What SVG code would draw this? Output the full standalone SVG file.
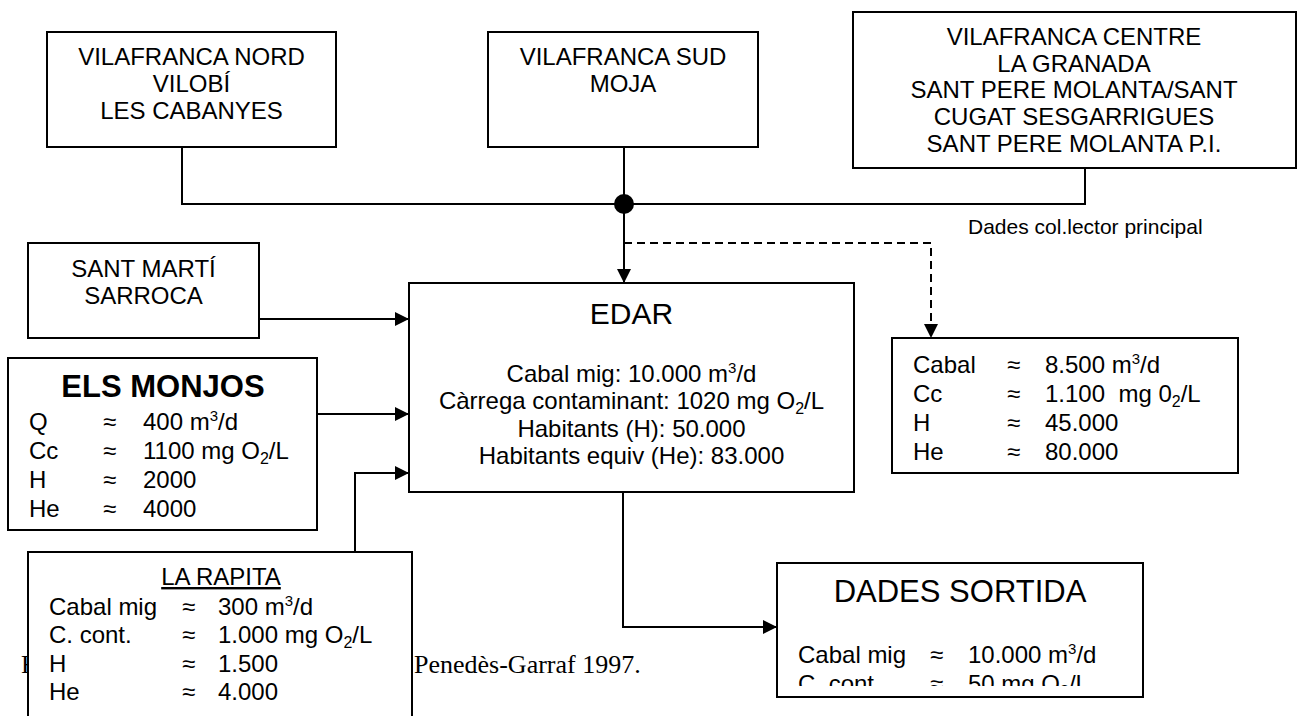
<svg xmlns="http://www.w3.org/2000/svg" width="1299" height="716" viewBox="0 0 1299 716">
<style>
.box{fill:#fff;stroke:#000;stroke-width:2}
.ln{fill:none;stroke:#000;stroke-width:2}
.dash{fill:none;stroke:#000;stroke-width:2;stroke-dasharray:8 5}
text{font-family:"Liberation Sans",Arial,sans-serif;fill:#000}
.t24{font-size:24px}
.c{text-anchor:middle}
.ser{font-family:"Liberation Serif","Times New Roman",serif;font-size:26px}
</style>
<defs>
<marker id="arr" markerUnits="userSpaceOnUse" markerWidth="14" markerHeight="14" refX="14" refY="7" orient="auto">
<path d="M0,0 L14,7 L0,14 z" fill="#000"/>
</marker>
<clipPath id="clipOut"><rect x="777" y="563" width="366" height="123"/></clipPath>
</defs>
<rect width="1299" height="716" fill="#fff"/>

<g id="caption">
<text class="ser" x="21" y="673">F</text>
<text class="ser" x="414" y="673">Penedès-Garraf 1997.</text>
</g>

<g id="connectors">
<polyline class="ln" points="182,147 182,204 1085,204 1085,168"/>
<line class="ln" x1="624" y1="147" x2="624" y2="204"/>
<circle cx="624" cy="204" r="10" fill="#000"/>
<line class="ln" x1="624" y1="204" x2="624" y2="283" marker-end="url(#arr)"/>
<polyline class="dash" points="624,243 931,243 931,338" marker-end="url(#arr)"/>
<line class="ln" x1="259" y1="319" x2="409" y2="319" marker-end="url(#arr)"/>
<line class="ln" x1="317" y1="414" x2="409" y2="414" marker-end="url(#arr)"/>
<polyline class="ln" points="355,552 355,473 409,473" marker-end="url(#arr)"/>
<polyline class="ln" points="623,492 623,627 777,627" marker-end="url(#arr)"/>
</g>

<g id="vilafranca-nord">
<rect class="box" x="47" y="32" width="289" height="115"/>
<text class="t24 c" x="191.5" y="65">VILAFRANCA NORD</text>
<text class="t24 c" x="191.5" y="92">VILOBÍ</text>
<text class="t24 c" x="191.5" y="119">LES CABANYES</text>
</g>

<g id="vilafranca-sud">
<rect class="box" x="488" y="32" width="270" height="115"/>
<text class="t24 c" x="623" y="65">VILAFRANCA SUD</text>
<text class="t24 c" x="623" y="92">MOJA</text>
</g>

<g id="vilafranca-centre">
<rect class="box" x="853" y="12" width="443" height="156"/>
<text class="t24 c" x="1074" y="45">VILAFRANCA CENTRE</text>
<text class="t24 c" x="1074" y="72">LA GRANADA</text>
<text class="t24 c" x="1074" y="98">SANT PERE MOLANTA/SANT</text>
<text class="t24 c" x="1074" y="125">CUGAT SESGARRIGUES</text>
<text class="t24 c" x="1074" y="152">SANT PERE MOLANTA P.I.</text>
</g>

<g id="label-collector">
<text x="968" y="234" font-size="21">Dades col.lector principal</text>
</g>

<g id="sant-marti">
<rect class="box" x="28" y="243" width="231" height="95"/>
<text class="t24 c" x="143.5" y="277">SANT MARTÍ</text>
<text class="t24 c" x="143.5" y="304">SARROCA</text>
</g>

<g id="edar">
<rect class="box" x="409" y="283" width="445" height="209"/>
<text class="c" x="631.5" y="324" font-size="30">EDAR</text>
<text class="t24 c" x="631.5" y="382">Cabal mig: 10.000 m<tspan font-size="15" dy="-9">3</tspan><tspan dy="9">/d</tspan></text>
<text class="t24 c" x="631.5" y="409">Càrrega contaminant: 1020 mg O<tspan font-size="16" dy="5">2</tspan><tspan dy="-5">/L</tspan></text>
<text class="t24 c" x="631.5" y="437">Habitants (H): 50.000</text>
<text class="t24 c" x="631.5" y="464">Habitants equiv (He): 83.000</text>
</g>

<g id="collector-data">
<rect class="box" x="892" y="338" width="346" height="135"/>
<text class="t24" x="913" y="373">Cabal</text>
<text class="t24" x="1007" y="373">≈</text>
<text class="t24" x="1045" y="373">8.500 m<tspan font-size="15" dy="-9">3</tspan><tspan dy="9">/d</tspan></text>
<text class="t24" x="913" y="402">Cc</text>
<text class="t24" x="1007" y="402">≈</text>
<text class="t24" x="1045" y="402" xml:space="preserve">1.100  mg 0<tspan font-size="16" dy="5">2</tspan><tspan dy="-5">/L</tspan></text>
<text class="t24" x="913" y="431">H</text>
<text class="t24" x="1007" y="431">≈</text>
<text class="t24" x="1045" y="431">45.000</text>
<text class="t24" x="913" y="460">He</text>
<text class="t24" x="1007" y="460">≈</text>
<text class="t24" x="1045" y="460">80.000</text>
</g>

<g id="els-monjos">
<rect class="box" x="8" y="358" width="309" height="172"/>
<text class="c" x="163" y="397" font-size="31" font-weight="bold">ELS MONJOS</text>
<text class="t24" x="29" y="430">Q</text>
<text class="t24" x="103" y="430">≈</text>
<text class="t24" x="143" y="430">400 m<tspan font-size="15" dy="-9">3</tspan><tspan dy="9">/d</tspan></text>
<text class="t24" x="29" y="459">Cc</text>
<text class="t24" x="103" y="459">≈</text>
<text class="t24" x="143" y="459">1100 mg O<tspan font-size="16" dy="5">2</tspan><tspan dy="-5">/L</tspan></text>
<text class="t24" x="29" y="488">H</text>
<text class="t24" x="103" y="488">≈</text>
<text class="t24" x="143" y="488">2000</text>
<text class="t24" x="29" y="517">He</text>
<text class="t24" x="103" y="517">≈</text>
<text class="t24" x="143" y="517">4000</text>
</g>

<g id="la-rapita">
<rect class="box" x="28" y="552" width="384" height="180"/>
<text class="t24 c" x="221" y="585" text-decoration="underline">LA RAPITA</text>
<text class="t24" x="49" y="615">Cabal mig</text>
<text class="t24" x="182" y="615">≈</text>
<text class="t24" x="218" y="615">300 m<tspan font-size="15" dy="-9">3</tspan><tspan dy="9">/d</tspan></text>
<text class="t24" x="49" y="643">C. cont.</text>
<text class="t24" x="182" y="643">≈</text>
<text class="t24" x="218" y="643">1.000 mg O<tspan font-size="16" dy="5">2</tspan><tspan dy="-5">/L</tspan></text>
<text class="t24" x="49" y="672">H</text>
<text class="t24" x="182" y="672">≈</text>
<text class="t24" x="218" y="672">1.500</text>
<text class="t24" x="49" y="700">He</text>
<text class="t24" x="182" y="700">≈</text>
<text class="t24" x="218" y="700">4.000</text>
</g>

<g id="dades-sortida">
<rect class="box" x="777" y="563" width="366" height="134"/>
<text class="c" x="960" y="602" font-size="31">DADES SORTIDA</text>
<g clip-path="url(#clipOut)">
<text class="t24" x="798" y="663">Cabal mig</text>
<text class="t24" x="930" y="663">≈</text>
<text class="t24" x="968" y="663">10.000 m<tspan font-size="15" dy="-9">3</tspan><tspan dy="9">/d</tspan></text>
<text class="t24" x="798" y="692">C. cont</text>
<text class="t24" x="930" y="692">≈</text>
<text class="t24" x="968" y="692">50 mg O<tspan font-size="16" dy="5">2</tspan><tspan dy="-5">/L</tspan></text>
</g>
</g>
</svg>
